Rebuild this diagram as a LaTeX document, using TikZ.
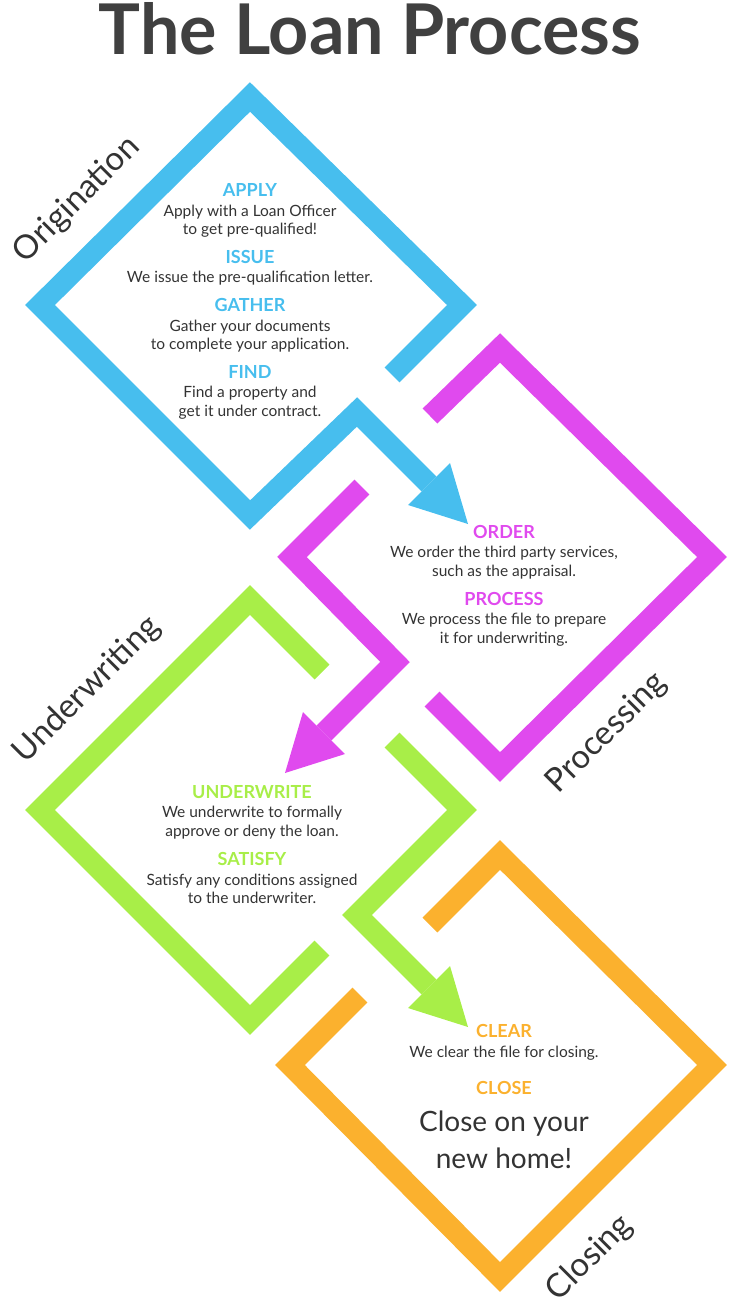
\documentclass[tikz,border=0pt]{standalone}
\usepackage{fontspec}
\setmainfont{Lato}
\definecolor{colB}{HTML}{47BEEE}
\definecolor{colM}{HTML}{E04AEE}
\definecolor{colG}{HTML}{A8EE48}
\definecolor{colO}{HTML}{FBB12E}
\definecolor{tx}{HTML}{333333}
\definecolor{tt}{HTML}{404040}
\begin{document}
\begin{tikzpicture}[x=1pt,y=-1pt,
  band/.style={line width=21pt,line join=miter,line cap=butt},
  body/.style={text=tx,font=\fontsize{15.5}{17}\selectfont,align=center,anchor=base},
  head/.style={font=\fontsize{18}{20}\selectfont\bfseries,anchor=base},
  side/.style={text=tx,font=\fontsize{33}{36}\selectfont,rotate=45,anchor=center}]
\useasboundingbox (0,0) rectangle (730,1306);
% blue
\draw[band,colB] (392,375) -- (462,305) -- (250,97) -- (40,305) -- (250,515) -- (357,412) -- (429,484);
\fill[colB] (408,505) -- (450,463) -- (468,524) -- cycle;
% magenta
\draw[band,colM] (430,416) -- (500,348) -- (712,557) -- (500,767) -- (432,699);
\draw[band,colM] (362,487) -- (292,557) -- (395,662) -- (324,733);
\fill[colM] (345,754) -- (303,712) -- (285,773) -- cycle;
% green
\draw[band,colG] (322,672) -- (250,600) -- (40,810) -- (250,1020) -- (322,948);
\draw[band,colG] (392,740) -- (462,810) -- (357,915) -- (429,987);
\fill[colG] (408,1008) -- (450,966) -- (468,1027) -- cycle;
% orange
\draw[band,colO] (430,925) -- (500,855) -- (712,1065) -- (500,1277) -- (290,1065) -- (360,995);
% title
\node[text=tt,font=\fontsize{70}{72}\selectfont\bfseries,anchor=base] (title) at (370,55) {The Loan Process};
% side labels
\node[side] (s1) at (77,200) {Origination};
\node[side] (s2) at (87,690) {Underwriting};
\node[side] (s3) at (607,733) {Processing};
\node[side] (s4) at (590,1258) {Closing};
% blue text
\node[head,text=colB] (h1) at (250,196) {APPLY};
\node[body] (b1) at (250,216) {Apply with a Loan Officer};
\node[body] (b1b) at (250,234) {to get pre-qualified!};
\node[head,text=colB] (h2) at (250,263) {ISSUE};
\node[body] (b2) at (250,282) {We issue the pre-qualification letter.};
\node[head,text=colB] (h3) at (250,311) {GATHER};
\node[body] (b3) at (250,331) {Gather your documents};
\node[body] (b3b) at (250,349) {to complete your application.};
\node[head,text=colB] (h4) at (250,378) {FIND};
\node[body] (b4) at (250,397) {Find a property and};
\node[body] (b4b) at (250,416) {get it under contract.};
% magenta text
\node[head,text=colM] (h5) at (504,538) {ORDER};
\node[body] (b5) at (504,557) {We order the third party services,};
\node[body] (b5b) at (504,576) {such as the appraisal.};
\node[head,text=colM] (h6) at (504,605) {PROCESS};
\node[body] (b6) at (504,624) {We process the file to prepare};
\node[body] (b6b) at (504,643) {it for underwriting.};
% green text
\node[head,text=colG] (h7) at (252,798) {UNDERWRITE};
\node[body] (b7) at (252,817) {We underwrite to formally};
\node[body] (b7b) at (252,836) {approve or deny the loan.};
\node[head,text=colG] (h8) at (252,865) {SATISFY};
\node[body] (b8) at (252,885) {Satisfy any conditions assigned};
\node[body] (b8b) at (252,903) {to the underwriter.};
% orange text
\node[head,text=colO] (h9) at (504,1037) {CLEAR};
\node[body] (b9) at (504,1057) {We clear the file for closing.};
\node[head,text=colO] (h10) at (504,1094) {CLOSE};
\node[body,font=\fontsize{28}{32}\selectfont] (b10) at (504,1131) {Close on your};
\node[body,font=\fontsize{28}{32}\selectfont] (b10b) at (504,1168) {new home!};
\end{tikzpicture}
\end{document}
